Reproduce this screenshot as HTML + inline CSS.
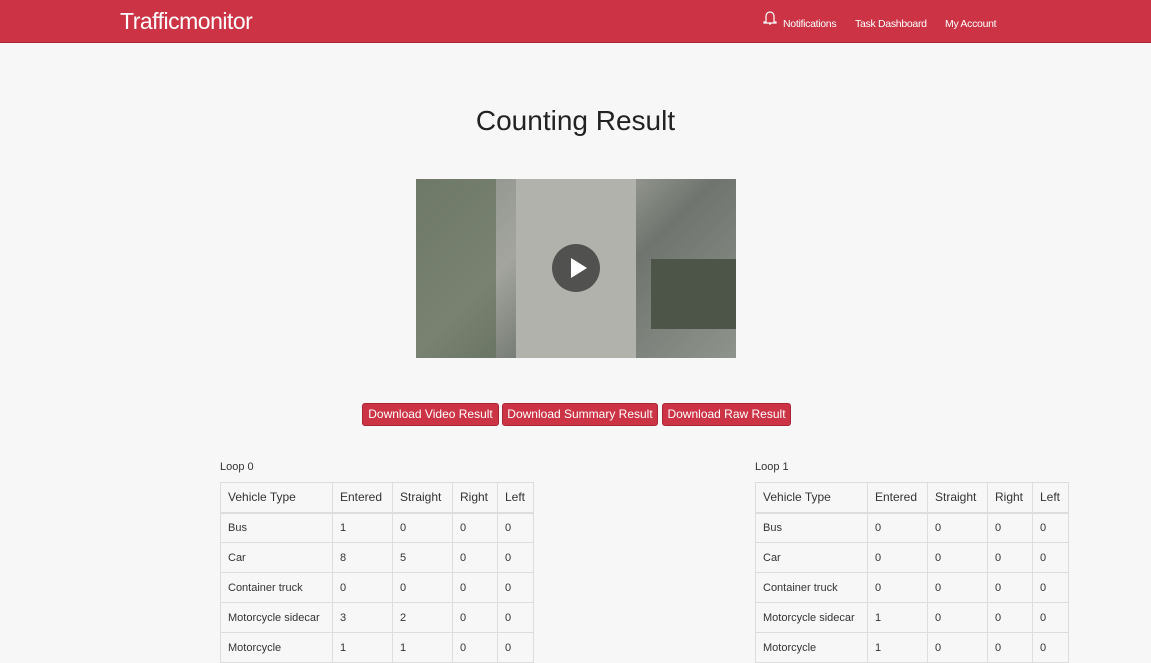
<!DOCTYPE html>
<html><head><meta charset="utf-8"><style>
*{box-sizing:border-box;margin:0;padding:0}
body{width:1151px;height:656px;overflow:hidden;background:#f7f7f7;font-family:"Liberation Sans",sans-serif;color:#333;position:relative}
.nav{position:absolute;left:0;top:0;width:1151px;height:43px;background:#cc3446;border-bottom:1px solid #a82536}
.brand{position:absolute;left:120px;top:8px;font-size:23px;color:#fff;letter-spacing:-0.5px}
.nl{position:absolute;top:18px;font-size:10.5px;color:#fff;letter-spacing:-0.3px}
h1{position:absolute;left:0;width:1151px;top:105px;text-align:center;font-weight:normal;font-size:28px;color:#222}
.video{position:absolute;left:416px;top:179px;width:320px;height:179px;background:linear-gradient(135deg,#8a8f88 0%,#a3a59e 35%,#6f756e 60%,#8e938c 100%);overflow:hidden}
.play{position:absolute;left:136px;top:65px;width:48px;height:48px;border-radius:50%;background:rgba(50,50,50,.75)}
.play:after{content:"";position:absolute;left:19px;top:14px;border-left:16px solid #fff;border-top:10px solid transparent;border-bottom:10px solid transparent}
.btn{position:absolute;top:403px;height:23px;background:#cc3446;border:1px solid #a82536;border-radius:3px;color:#fff;font-size:12px;line-height:21px;text-align:center}
.cap{position:absolute;top:461px;font-size:11px}
table{position:absolute;top:482px;border-collapse:collapse;font-size:11px}
td,th{border:1px solid #ddd;height:30px;padding:0 7px;text-align:left;font-weight:normal}
th{font-size:12px;border-bottom:2px solid #ddd}
</style></head><body>
<div class="nav">
<div class="brand">Trafficmonitor</div>
<svg style="position:absolute;left:763px;top:10px" width="14" height="16"><path d="M3 12V6a4 4 0 0 1 8 0v6h2v1H1v-1z M6 14h2" stroke="#fff" fill="none" stroke-width="1.2"/></svg>
<div class="nl" style="left:783px">Notifications</div>
<div class="nl" style="left:855px">Task Dashboard</div>
<div class="nl" style="left:945px">My Account</div>
</div>
<h1>Counting Result</h1>
<div class="video">
<div style="position:absolute;left:100px;top:0;width:120px;height:179px;background:#b0b2ab"></div>
<div style="position:absolute;left:0;top:0;width:80px;height:179px;background:#5e6b52;opacity:.6"></div>
<div style="position:absolute;left:235px;top:80px;width:85px;height:70px;background:#4d5549"></div>
<div class="play"></div>
</div>
<div class="btn" style="left:362px;width:137px">Download Video Result</div>
<div class="btn" style="left:502px;width:156px">Download Summary Result</div>
<div class="btn" style="left:662px;width:129px">Download Raw Result</div>
<div class="cap" style="left:220px">Loop 0</div>
<div class="cap" style="left:755px">Loop 1</div>
<table style="left:220px;width:314px">
<tr><th style="width:112px">Vehicle Type</th><th style="width:60px">Entered</th><th style="width:60px">Straight</th><th style="width:45px">Right</th><th>Left</th></tr>
<tr><td>Bus</td><td>1</td><td>0</td><td>0</td><td>0</td></tr>
<tr><td>Car</td><td>8</td><td>5</td><td>0</td><td>0</td></tr>
<tr><td>Container truck</td><td>0</td><td>0</td><td>0</td><td>0</td></tr>
<tr><td>Motorcycle sidecar</td><td>3</td><td>2</td><td>0</td><td>0</td></tr>
<tr><td>Motorcycle</td><td>1</td><td>1</td><td>0</td><td>0</td></tr>
</table>
<table style="left:755px;width:314px">
<tr><th style="width:112px">Vehicle Type</th><th style="width:60px">Entered</th><th style="width:60px">Straight</th><th style="width:45px">Right</th><th>Left</th></tr>
<tr><td>Bus</td><td>0</td><td>0</td><td>0</td><td>0</td></tr>
<tr><td>Car</td><td>0</td><td>0</td><td>0</td><td>0</td></tr>
<tr><td>Container truck</td><td>0</td><td>0</td><td>0</td><td>0</td></tr>
<tr><td>Motorcycle sidecar</td><td>1</td><td>0</td><td>0</td><td>0</td></tr>
<tr><td>Motorcycle</td><td>1</td><td>0</td><td>0</td><td>0</td></tr>
</table>
</body></html>
